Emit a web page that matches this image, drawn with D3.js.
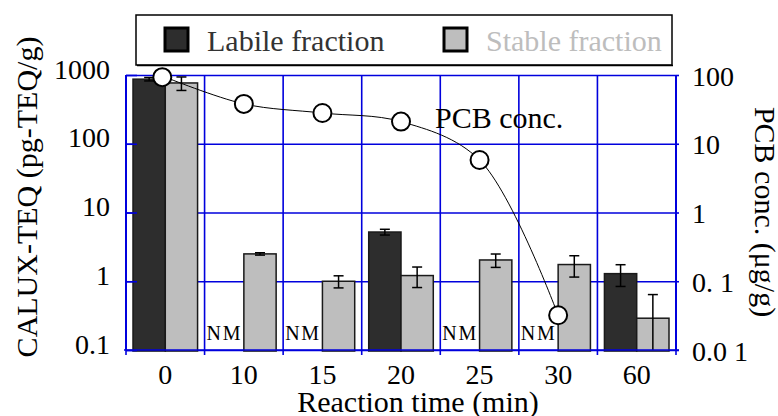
<!DOCTYPE html>
<html>
<head>
<meta charset="utf-8">
<script src="https://cdn.jsdelivr.net/npm/d3@7"></script>
<style>
  body { margin: 0; background: #fff; }
  text { font-family: "Liberation Serif", "DejaVu Serif", serif; }
</style>
</head>
<body>
<div id="chart_area"></div>
<script>
// data
var categories = ["0", "10", "15", "20", "25", "30", "60"];
var labile    = [870, null, null, 5.2, null, null, 1.29];
var labileErr = [50, null, null, 0.5, null, null, 0.45];
var stable    = [766, 2.5, 1.0, 1.21, 2.04, 1.75, 0.29];
var stableErr = [170, 0.1, 0.2, 0.4, 0.45, 0.6, 0.35];
var pcb       = [93, 38, 28, 21, 5.8, 0.032, null];

var leftTicks   = [0.1, 1, 10, 100, 1000];
var leftLabels  = ["0.1", "1", "10", "100", "1000"];
var rightTicks  = [0.01, 0.1, 1, 10, 100];
var rightLabels = ["0.0 1", "0. 1", "1", "10", "100"];

var W = 778, H = 416;
var plotL = 126, plotR = 676, plotT = 75, plotB = 350;
var gridColor = "#0000dd";

var svg = d3.select("#chart_area")
    .append("svg")
    .attr("width", W)
    .attr("height", H);

var x = d3.scaleBand().domain(categories).range([plotL, plotR]).padding(0);
var bw = x.bandwidth();
var xs = d3.scaleBand().domain(["labile", "stable"]).range([7, bw - 7]).padding(0);
var yL = d3.scaleLog().domain([0.1, 1000]).range([plotB, plotT]);
var yR = d3.scaleLog().domain([0.01, 100]).range([plotB, plotT]);

// horizontal grid
svg.append("g")
    .attr("transform", "translate(" + plotL + ",0)")
    .call(d3.axisLeft(yL).tickValues(leftTicks).tickSize(-(plotR - plotL)).tickFormat(""))
    .call(function(g){
        g.select(".domain").remove();
        g.selectAll("line").attr("stroke", gridColor).attr("stroke-width", 1.6);
    });

// vertical grid at band edges, running a little past the bottom
var edges = categories.map(function(c){ return x(c); }).concat([plotR]);
svg.append("g").selectAll("line")
    .data(edges)
    .enter().append("line")
    .attr("x1", function(d){ return d; })
    .attr("x2", function(d){ return d; })
    .attr("y1", plotT)
    .attr("y2", plotB + 5)
    .attr("stroke", gridColor)
    .attr("stroke-width", 1.6);

// bars
function drawBars(vals, key, fill) {
    var rows = categories.map(function(c, i){ return {c: c, v: vals[i]}; })
        .filter(function(d){ return d.v != null; });
    svg.append("g").selectAll("rect")
        .data(rows)
        .enter().append("rect")
        .attr("x", function(d){ return x(d.c) + xs(key); })
        .attr("width", xs.bandwidth())
        .attr("y", function(d){ return yL(d.v); })
        .attr("height", function(d){ return plotB + 1 - yL(d.v); })
        .attr("fill", fill)
        .attr("stroke", "#1a1a1a")
        .attr("stroke-width", 1.5);
}
drawBars(labile, "labile", "#2d2d2d");
drawBars(stable, "stable", "#bebebe");

// error bars
function drawErr(vals, errs, key, color) {
    var rows = categories.map(function(c, i){ return {c: c, v: vals[i], e: errs[i]}; })
        .filter(function(d){ return d.v != null; });
    var g = svg.append("g").attr("stroke", color).attr("stroke-width", 1.5);
    rows.forEach(function(d){
        var cx = x(d.c) + xs(key) + xs.bandwidth() / 2;
        var hi = yL(d.v + d.e);
        var lo = yL(Math.max(d.v - d.e, 0.1));
        g.append("line").attr("x1", cx).attr("x2", cx).attr("y1", hi).attr("y2", lo);
        g.append("line").attr("x1", cx - 5).attr("x2", cx + 5).attr("y1", hi).attr("y2", hi);
        if (d.v - d.e > 0.1)
            g.append("line").attr("x1", cx - 5).attr("x2", cx + 5).attr("y1", lo).attr("y2", lo);
    });
}
drawErr(labile, labileErr, "labile", "#000");
drawErr(stable, stableErr, "stable", "#000");

// frame on top of bars
svg.append("line").attr("x1", plotL - 2).attr("x2", plotR + 3)
    .attr("y1", plotB).attr("y2", plotB)
    .attr("stroke", gridColor).attr("stroke-width", 2).attr("opacity", 0.75);
svg.append("line").attr("x1", plotL).attr("x2", plotL)
    .attr("y1", plotT).attr("y2", plotB)
    .attr("stroke", gridColor).attr("stroke-width", 2);
svg.append("line").attr("x1", plotR).attr("x2", plotR)
    .attr("y1", plotT).attr("y2", plotB)
    .attr("stroke", gridColor).attr("stroke-width", 2);

// inner ticks on left
svg.append("g")
    .attr("transform", "translate(" + plotL + ",0)")
    .call(d3.axisRight(yL).tickValues(leftTicks).tickSize(11).tickFormat(""))
    .call(function(g){
        g.select(".domain").remove();
        g.selectAll("line").attr("stroke", gridColor).attr("stroke-width", 1.6);
    });

// left tick labels
svg.append("g")
    .attr("transform", "translate(" + plotL + ",0)")
    .call(d3.axisLeft(yL).tickValues(leftTicks).tickSize(0).tickPadding(16)
        .tickFormat(function(d, i){ return leftLabels[i]; }))
    .call(function(g){
        g.select(".domain").remove();
        g.selectAll("text")
            .attr("font-family", "Liberation Serif")
            .attr("font-size", 28)
            .attr("fill", "#000")
            .attr("dy", 3);
    });

// right tick labels, short outer ticks
svg.append("g")
    .attr("transform", "translate(" + plotR + ",0)")
    .call(d3.axisRight(yR).tickValues(rightTicks).tickSize(3).tickPadding(13)
        .tickFormat(function(d, i){ return rightLabels[i]; }))
    .call(function(g){
        g.select(".domain").remove();
        g.selectAll("line").attr("stroke", gridColor).attr("stroke-width", 1.6);
        g.selectAll("text")
            .attr("font-family", "Liberation Serif")
            .attr("font-size", 28)
            .attr("fill", "#000")
            .attr("dy", 10);
    });

// bottom tick labels
svg.append("g")
    .attr("transform", "translate(0," + plotB + ")")
    .call(d3.axisBottom(x).tickSize(0).tickPadding(0))
    .call(function(g){
        g.select(".domain").remove();
        g.selectAll("text")
            .attr("font-family", "Liberation Serif")
            .attr("font-size", 28)
            .attr("fill", "#000")
            .attr("dy", null)
            .attr("y", 34);
    });

// NM labels where labile was not measured
svg.append("g").selectAll("text")
    .data(categories.filter(function(c, i){ return labile[i] == null; }))
    .enter().append("text")
    .attr("x", function(d){ return x(d) + 2; })
    .attr("y", plotB - 10)
    .attr("font-size", 20)
    .attr("textLength", 34)
    .attr("fill", "#000")
    .text("NM");

// PCB line
var pts = categories.map(function(c, i){ return {c: c, v: pcb[i]}; })
    .filter(function(d){ return d.v != null; });
var line = d3.line()
    .x(function(d){ return x(d.c) + bw / 2; })
    .y(function(d){ return yR(d.v); })
    .curve(d3.curveCatmullRom.alpha(0.5));
svg.append("path")
    .datum(pts)
    .attr("d", line)
    .attr("fill", "none")
    .attr("stroke", "#000")
    .attr("stroke-width", 1);
svg.append("g").selectAll("circle")
    .data(pts)
    .enter().append("circle")
    .attr("cx", function(d, i){ return x(d.c) + bw / 2 - (i === 0 ? 3 : 0); })
    .attr("cy", function(d){ return yR(d.v); })
    .attr("r", 9)
    .attr("fill", "#fff")
    .attr("stroke", "#000")
    .attr("stroke-width", 2);

svg.append("text")
    .attr("x", 435)
    .attr("y", 128)
    .attr("font-size", 30)
    .text("PCB conc.");

// legend
svg.append("rect")
    .attr("x", 136).attr("y", 15)
    .attr("width", 536).attr("height", 50)
    .attr("fill", "#fff")
    .attr("stroke", "#000")
    .attr("stroke-width", 1.5);
svg.append("line").attr("x1", 137).attr("x2", 673).attr("y1", 65.5).attr("y2", 65.5)
    .attr("stroke", "#000").attr("stroke-width", 1.5);
var legendItems = [
    {name: "Labile fraction", fill: "#2d2d2d", text: "#333", sx: 165, tx: 207},
    {name: "Stable fraction", fill: "#bebebe", text: "#bdbdbd", sx: 444, tx: 486}
];
var lg = svg.append("g").selectAll("g").data(legendItems).enter().append("g");
lg.append("rect")
    .attr("x", function(d){ return d.sx; })
    .attr("y", 28)
    .attr("width", 23).attr("height", 23)
    .attr("fill", function(d){ return d.fill; })
    .attr("stroke", "#000")
    .attr("stroke-width", 3);
lg.append("text")
    .attr("x", function(d){ return d.tx; })
    .attr("y", 51)
    .attr("font-size", 30)
    .attr("fill", function(d){ return d.text; })
    .text(function(d){ return d.name; });

// axis titles
svg.append("text")
    .attr("transform", "translate(37,197) rotate(-90)")
    .attr("text-anchor", "middle")
    .attr("font-size", 30)
    .text("CALUX-TEQ (pg-TEQ/g)");
svg.append("text")
    .attr("transform", "translate(755,212) rotate(90)")
    .attr("text-anchor", "middle")
    .attr("font-size", 30)
    .text("PCB conc. (\u03bcg/g)");
svg.append("text")
    .attr("x", 418)
    .attr("y", 412)
    .attr("text-anchor", "middle")
    .attr("font-size", 30)
    .text("Reaction time (min)");
</script>
</body>
</html>
